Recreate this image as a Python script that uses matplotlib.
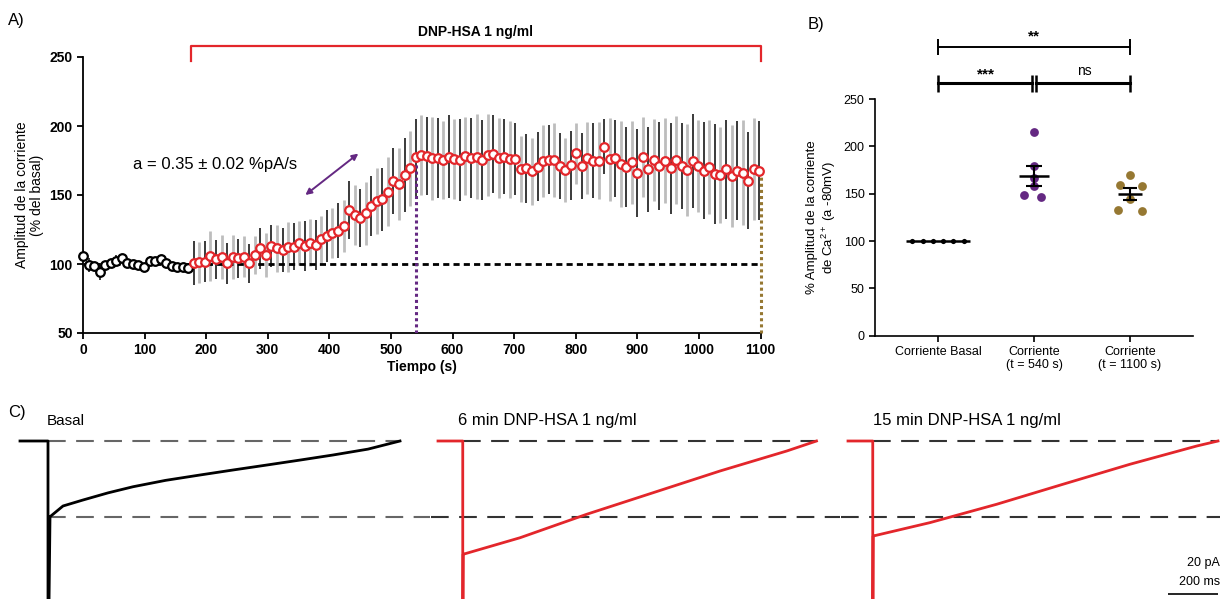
import numpy as np
import matplotlib
matplotlib.use("Agg")
import matplotlib.pyplot as plt

plt.rcParams["font.family"] = ["Liberation Sans", "DejaVu Sans"]
plt.rcParams["mathtext.fontset"] = "custom"
plt.rcParams["mathtext.rm"] = "Liberation Sans"
plt.rcParams["mathtext.it"] = "Liberation Sans"

W, H = 1220, 599

# ── Panel A data (time course, % of basal) ───────────────────────
DT = 9                      # s between sweeps
basal_mean = [105.8, 99.3, 98.5, 94.5, 99.5, 100.5, 102.5, 104.0, 100.5, 100.0,
              99.5, 98.0, 102.5, 102.0, 103.5, 101.0, 98.5, 98.0, 97.5, 97.0]
basal_sem = [4, 5, 3, 6, 3, 3, 4, 3, 3, 3, 3, 3, 3, 3, 3, 3, 3, 3, 3, 3]

drug_mean = [100.5, 101.2, 101.7, 105.8, 103.4, 104.9, 100.5, 104.9, 104.1, 105.3,
             100.5, 106.5, 111.4, 106.5, 113.0, 111.4, 110.2, 112.1, 112.6, 115.5,
             113.0, 115.5, 113.8, 117.9, 120.3, 122.7, 124.2, 127.5, 139.1, 135.5,
             133.1, 136.7, 142.0, 145.9, 146.9, 152.4, 160.4, 158.0, 164.5, 169.3,
             177.3,
             179.0, 178.3, 176.6, 176.6, 175.4, 177.8, 175.9, 175.4, 178.3, 177.0,
             177.8, 175.4, 179.0, 179.7, 176.6, 177.8, 175.9, 175.9, 168.6, 169.3,
             167.1, 170.5, 174.9, 175.4, 175.4, 171.0, 168.1, 171.7, 180.2, 171.0,
             177.0, 174.9,
             174.9, 185.0, 175.9, 176.6, 172.5, 170.5, 173.7, 165.7, 177.8, 168.6,
             175.4, 171.0, 174.9, 169.3, 175.4, 171.0, 168.1, 174.9, 171.0, 167.6,
             170.5, 165.2, 164.5, 168.6, 163.8, 167.6, 166.2, 160.4, 168.6, 167.6]
drug_sem = [16, 15, 15, 18, 14, 16, 15, 16, 14, 15, 14,
            14, 15, 16, 15, 17, 16, 18, 17, 16, 18, 17, 18, 17, 19, 18, 20, 19,
            21, 22, 21, 23, 22, 24, 23, 25, 24, 26, 27, 27, 28,
            29, 28, 30, 29, 28, 30, 29, 30, 28, 29, 31, 29, 30, 28, 29, 27, 28,
            26, 24, 25, 24, 25, 26, 25, 27, 24, 23, 25, 22, 24, 26, 27,
            28, 20, 30, 28, 31, 29, 30, 32, 29, 31, 30, 32, 31, 33, 32, 31, 33,
            34, 33, 35, 34, 36, 35, 36, 37, 36, 38, 35, 37, 36]

DRUG_ON, DRUG_OFF = 175, 1100
T_PEAK, T_END = 540, 1100
REF_LEVEL = 100
SLOPE_TEXT = "a = 0.35 ± 0.02 %pA/s"

# ── Panel B data (per-cell amplitudes) ───────────────────────────
groups = ["Corriente Basal", "Corriente\n(t = 540 s)", "Corriente\n(t = 1100 s)"]
cells_basal = [100, 100, 100, 100, 100, 100]
cells_540 = [215.5, 179.6, 166.9, 158.1, 148.6, 146.2]
cells_1100 = [169.7, 159.2, 157.8, 144.0, 132.5, 131.8]

# ── Panel C data (representative traces, ms / pA) ────────────────
tr_basal_t = [-112, 0, 0, 8, 60, 140, 240, 340, 470, 608, 740, 876, 1010, 1140,
              1280, 1408]
tr_basal_i = [0, 0, -200, -60.6, -52.0, -47.2, -41.5, -36.6, -31.5, -27.2, -23.2,
              -19.2, -15.2, -11.2, -6.5, 0]
tr_6min_t = [-99, 0, 0, 2, 229, 496, 761, 1029, 1296, 1415]
tr_6min_i = [0, 0, -200, -90.6, -77.4, -58.6, -41.4, -24.0, -8.0, 0]
tr_15min_t = [-99, 0, 0, 2, 229, 496, 761, 1029, 1296, 1381]
tr_15min_i = [0, 0, -200, -76.0, -65.3, -50.6, -34.6, -18.6, -4.0, 0]
SCALE_MS, SCALE_PA = 200, 20

# ── Style ────────────────────────────────────────────────────────
RED = "#e3262b"
PURPLE = "#642882"
GOLD = "#967832"
GREY_BAR = "#bdbdbd"
DARK_BAR = "#2b2b2b"

fig = plt.figure(figsize=(W / 100, H / 100), dpi=100)
fig.patch.set_facecolor("white")


def px_rect(x0, y0, x1, y1):
    return [x0 / W, 1 - y1 / H, (x1 - x0) / W, (y1 - y0) / H]


# ── (A) time course ──────────────────────────────────────────────
axA = fig.add_axes(px_rect(83, 57, 760.5, 333))
t_basal = np.arange(len(basal_mean)) * DT
t_drug = (len(basal_mean) + np.arange(len(drug_mean))) * DT
ym_b, ys_b = np.array(basal_mean), np.array(basal_sem)
ym_d, ys_d = np.array(drug_mean), np.array(drug_sem)

bar_cols = [DARK_BAR if i % 2 == 0 else GREY_BAR for i in range(len(drug_mean))]
bar_lw = [1.3 if i % 2 == 0 else 2.0 for i in range(len(drug_mean))]
axA.vlines(t_drug, ym_d - ys_d, ym_d + ys_d, colors=bar_cols, lw=bar_lw, zorder=2)
axA.vlines(t_basal, ym_b - ys_b, ym_b + ys_b, colors=DARK_BAR, lw=1.3, zorder=2)

axA.axhline(REF_LEVEL, color="black", lw=2, ls=(0, (2.2, 1.5)), zorder=3)

peak_val = ym_d[np.argmin(np.abs(t_drug - T_PEAK))]
end_val = ym_d[-1]
axA.vlines(T_PEAK, 50, peak_val, color=PURPLE, lw=2.2, ls=(0, (1, 1)), zorder=3)
axA.vlines(T_END, 50, end_val, color=GOLD, lw=2.2, ls=(0, (1, 1)), zorder=3,
           clip_on=False)

axA.plot(t_basal, ym_b, "o", ms=6.2, mfc="white", mec="black", mew=1.6,
         zorder=5, clip_on=False)
axA.plot(t_drug, ym_d, "o", ms=6.2, mfc="white", mec=RED, mew=1.6,
         zorder=5, clip_on=False)

# application bracket
axA.plot([DRUG_ON, DRUG_ON, DRUG_OFF, DRUG_OFF], [247, 258, 258, 247],
         color=RED, lw=1.6, clip_on=False)
axA.text((DRUG_ON + DRUG_OFF) / 2, 263, "DNP-HSA 1 ng/ml", ha="center",
         va="bottom", fontsize=10, fontweight="bold")

axA.text(215, 172, SLOPE_TEXT, ha="center", va="center", fontsize=12)
axA.annotate("", xy=(447, 180), xytext=(361, 150),
             arrowprops=dict(arrowstyle="<|-|>", color=PURPLE, lw=1.4,
                             mutation_scale=9, shrinkA=0, shrinkB=0))

axA.set_xlim(0, 1100)
axA.set_ylim(50, 250)
axA.set_xticks(np.arange(0, 1101, 100))
axA.set_yticks(np.arange(50, 251, 50))
axA.spines["top"].set_visible(False)
axA.spines["right"].set_visible(False)
for s in ("left", "bottom"):
    axA.spines[s].set_linewidth(1.3)
axA.tick_params(width=1.3, length=4, labelsize=10)
for lab in axA.get_xticklabels() + axA.get_yticklabels():
    lab.set_fontweight("bold")
axA.set_xlabel("Tiempo (s)", fontsize=10, fontweight="bold", labelpad=2)
axA.set_ylabel("Amplitud de la corriente\n(% del basal)", fontsize=10,
               labelpad=4, linespacing=1.1)

# ── (B) per-cell scatter ─────────────────────────────────────────
axB = fig.add_axes(px_rect(875, 99, 1193, 335.7))
group_vals = [cells_basal, cells_540, cells_1100]
group_cols = ["black", PURPLE, GOLD]
jitter = [[-0.27, -0.16, -0.05, 0.05, 0.16, 0.27],
          [0.0, 0.0, 0.0, 0.0, -0.1, 0.07],
          [0.0, -0.1, 0.12, 0.0, -0.12, 0.12]]
mean_half = [0.33, 0.16, 0.13]
sem_half = [0.08, 0.085, 0.075]
msize = [14, 40, 40]
for gi, (vals, col) in enumerate(zip(group_vals, group_cols)):
    v = np.array(vals, dtype=float)
    m = v.mean()
    se = v.std(ddof=1) / np.sqrt(len(v))
    axB.scatter(gi + np.array(jitter[gi]), v, s=msize[gi], color=col,
                zorder=3, linewidths=0)
    axB.hlines(m, gi - mean_half[gi], gi + mean_half[gi], color="black",
               lw=1.8, zorder=4)
    if se > 0:
        axB.vlines(gi, m - se, m + se, color="black", lw=1.5, zorder=4)
        axB.hlines([m - se, m + se], gi - sem_half[gi], gi + sem_half[gi],
                   color="black", lw=1.5, zorder=4)

# significance brackets
axB.plot([0, 2], [305, 305], color="black", lw=1.4, clip_on=False)
axB.vlines([0, 2], 297, 313, color="black", lw=1.4, clip_on=False)
axB.plot([0, 0.975], [266.6, 266.6], color="black", lw=2.2, clip_on=False)
axB.plot([1.025, 2], [266.6, 266.6], color="black", lw=2.2, clip_on=False)
axB.vlines([0, 0.975, 1.025, 2], 257.5, 275.5, color="black", lw=1.8,
           clip_on=False)
axB.text(1, 309, "**", ha="center", va="bottom", fontsize=11, fontweight="bold")
axB.text(0.5, 269, "***", ha="center", va="bottom", fontsize=11,
         fontweight="bold")
axB.text(1.52, 272, "ns", ha="center", va="bottom", fontsize=10)

axB.set_xlim(-0.656, 2.656)
axB.set_ylim(0, 250)
axB.set_yticks(np.arange(0, 251, 50))
axB.set_xticks(range(3))
axB.set_xticklabels(groups, fontsize=9, linespacing=1.05)
axB.spines["top"].set_visible(False)
axB.spines["right"].set_visible(False)
for s in ("left", "bottom"):
    axB.spines[s].set_linewidth(1.2)
axB.tick_params(width=1.2, length=4, labelsize=9)
axB.set_ylabel("% Amplitud de la corriente\nde Ca$^{2+}$ (a -80mV)",
               fontsize=9.5, labelpad=4, linespacing=1.15)

# ── (C) representative traces ────────────────────────────────────
YLIM_C = (-126.4, 32.8)
traces = [
    (px_rect(0, 400, 420, 599), (-192, 1488), tr_basal_t, tr_basal_i,
     "black", "#666666", "Basal", 47, 11),
    (px_rect(420, 400, 830, 599), (-171, 1469), tr_6min_t, tr_6min_i,
     RED, "#333333", "6 min DNP-HSA 1 ng/ml", 458, 12),
    (px_rect(830, 400, 1220, 599), (-171, 1389), tr_15min_t, tr_15min_i,
     RED, "#333333", "15 min DNP-HSA 1 ng/ml", 873, 12),
]
basal_peak = min(v for v in tr_basal_i if v > -150)
axes_c = []
for rect, xl, tt, ii, col, dcol, title, tx, fs in traces:
    ax = fig.add_axes(rect)
    ax.set_xlim(xl)
    ax.set_ylim(YLIM_C)
    ax.axis("off")
    ax.hlines(0, 0, tt[-1], color=dcol, lw=1.5, ls=(0, (8.5, 5)), zorder=1)
    x0 = 0 if col == "black" else xl[0] + 45
    ax.hlines(basal_peak, x0, xl[1] + 40, color=dcol, lw=1.5,
              ls=(0, (8.5, 5)), zorder=1, clip_on=False)
    ax.plot(tt, ii, color=col, lw=2.0, zorder=3, solid_joinstyle="round")
    fig.text(tx / W, 1 - 421 / H, title, ha="left", va="center", fontsize=fs)
    axes_c.append(ax)

axL = axes_c[-1]
xr = axL.get_xlim()[1]
axL.hlines(-122.6, xr - 8 - SCALE_MS * 1.0, xr - 8, color="black", lw=1.2,
           clip_on=False)
axL.text(xr, -97.5, f"{SCALE_PA} pA", ha="right", va="center", fontsize=9)
axL.text(xr, -112.6, f"{SCALE_MS} ms", ha="right", va="center", fontsize=9)

# panel letters
fig.text(8 / W, 1 - 20 / H, "A)", fontsize=12, va="center")
fig.text(808 / W, 1 - 25 / H, "B)", fontsize=12, va="center")
fig.text(8 / W, 1 - 413 / H, "C)", fontsize=12, va="center")

fig.savefig("out.png", dpi=100, facecolor="white")
